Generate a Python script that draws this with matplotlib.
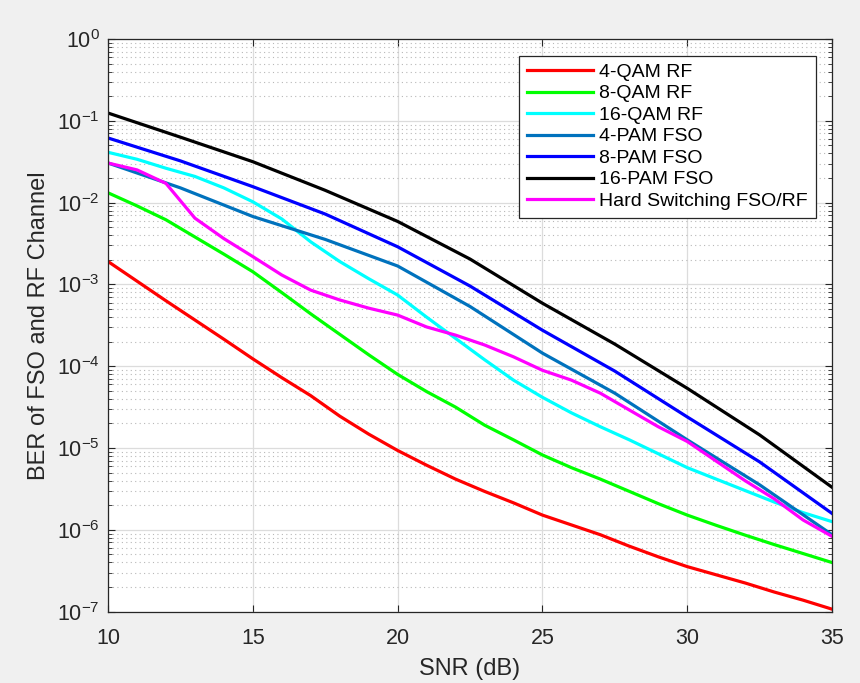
import numpy as np
import matplotlib as mpl
mpl.use('agg')
import matplotlib.pyplot as plt
from matplotlib.ticker import NullFormatter

plt.rcParams['font.family'] = ['Liberation Sans', 'DejaVu Sans']

# SNR grids (dB)
snr_1db = list(range(10, 36))
snr = [10, 12.5, 15, 17.5, 20, 22.5, 25, 27.5, 30, 32.5, 35]

# log10(BER) per curve
qam4_rf = [-2.72, -2.96, -3.20, -3.435, -3.67, -3.91, -4.14, -4.36, -4.61, -4.83,
           -5.03, -5.21, -5.38, -5.53, -5.67, -5.82, -5.94, -6.06, -6.20, -6.33,
           -6.45, -6.55, -6.65, -6.76, -6.86, -6.97]
qam8_rf = [-1.88, -2.04, -2.21, -2.42, -2.63, -2.845, -3.10, -3.36, -3.61, -3.86,
           -4.10, -4.31, -4.50, -4.72, -4.90, -5.085, -5.24, -5.38, -5.53, -5.68,
           -5.82, -5.945, -6.065, -6.18, -6.29, -6.40]
qam16_rf = [-1.385, -1.47, -1.58, -1.68, -1.82, -1.99, -2.20, -2.48, -2.72, -2.93,
            -3.13, -3.40, -3.66, -3.92, -4.17, -4.38, -4.57, -4.74, -4.90, -5.07,
            -5.24, -5.38, -5.52, -5.66, -5.79, -5.90]
pam4_fso = [-1.516, -1.82, -2.17, -2.45, -2.775, -3.27, -3.84, -4.33, -4.90, -5.45, -6.06]
pam8_fso = [-1.21, -1.49, -1.805, -2.14, -2.54, -3.02, -3.56, -4.06, -4.62, -5.17, -5.80]
pam16_fso = [-0.905, -1.20, -1.50, -1.85, -2.23, -2.69, -3.23, -3.73, -4.27, -4.84, -5.48]
hard_sw = [-1.516, -1.60, -1.765, -2.19, -2.44, -2.66, -2.885, -3.07, -3.19, -3.29,
           -3.375, -3.52, -3.62, -3.74, -3.885, -4.05, -4.17, -4.33, -4.535, -4.74,
           -4.92, -5.16, -5.40, -5.62, -5.88, -6.08]

series = [
    (snr_1db, qam4_rf, '#ff0000', '4-QAM RF'),
    (snr_1db, qam8_rf, '#00ff00', '8-QAM RF'),
    (snr_1db, qam16_rf, '#00ffff', '16-QAM RF'),
    (snr, pam4_fso, '#0072bd', '4-PAM FSO'),
    (snr, pam8_fso, '#0000ff', '8-PAM FSO'),
    (snr, pam16_fso, '#000000', '16-PAM FSO'),
    (snr_1db, hard_sw, '#ff00ff', 'Hard Switching FSO/RF'),
]

fig = plt.figure(figsize=(8.6, 6.83), dpi=100, facecolor='#f0f0f0')
ax = fig.add_axes([0.1256, 0.1045, 0.8419, 0.8384])
ax.set_facecolor('white')

for x, y, c, lab in series:
    ax.semilogy(x, 10.0 ** np.array(y), color=c, lw=2.3, label=lab)

ax.set_xlim(10, 35)
ax.set_ylim(1e-7, 1)
ax.set_xticks([10, 15, 20, 25, 30, 35])
decades = np.arange(-7, 1)
ax.set_yticks(10.0 ** decades)
ax.set_yticks([m * 10.0 ** k for k in decades[:-1] for m in range(2, 10)], minor=True)
ax.yaxis.set_minor_formatter(NullFormatter())

ax.grid(True, which='major', color='#dcdcdc', lw=0.9, ls='-')
ax.grid(True, which='minor', axis='y', color='#b8b8b8', lw=0.8, ls=(0, (1, 3)))
ax.set_axisbelow(True)

for s in ax.spines.values():
    s.set_color('#262626')
    s.set_linewidth(0.9)
ax.tick_params(which='both', direction='in', top=True, right=True,
               colors='#262626', labelsize=15.5)
ax.tick_params(which='major', length=5)
ax.tick_params(which='minor', length=3)
ax.tick_params(axis='x', pad=12)
ax.tick_params(axis='y', pad=6)

ax.set_xlabel('SNR (dB)', fontsize=17, color='#262626', labelpad=6)
ax.set_ylabel('BER of FSO and RF Channel', fontsize=17, color='#262626', labelpad=5)

leg = ax.legend(loc='upper right', fontsize=14, handlelength=3.4,
                handletextpad=0.3, borderaxespad=0.85, borderpad=0.4,
                fancybox=False, framealpha=1, edgecolor='#262626',
                labelspacing=0.2)
leg.get_frame().set_linewidth(0.9)

plt.savefig('out.png', dpi=100, facecolor=fig.get_facecolor())
